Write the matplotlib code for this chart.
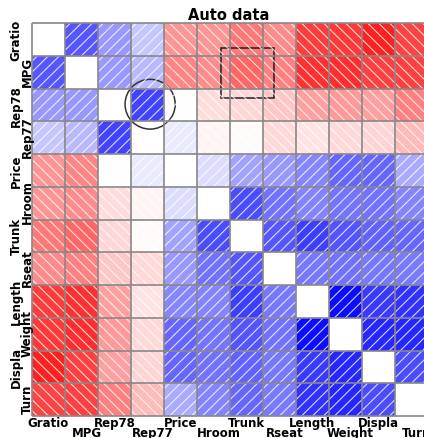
import numpy as np
import matplotlib
matplotlib.use("Agg")
import matplotlib.pyplot as plt
from matplotlib.colors import LinearSegmentedColormap
from matplotlib.collections import LineCollection
from matplotlib.patches import Circle, Rectangle
from matplotlib.transforms import blended_transform_factory

# Variables in display order
variables = ["Gratio", "MPG", "Rep78", "Rep77", "Price", "Hroom",
             "Trunk", "Rseat", "Length", "Weight", "Displa", "Turn"]

# Upper-triangle correlations, one list per row (entries right of the diagonal)
r_gratio = [0.66, 0.40, 0.22, -0.42, -0.42, -0.53, -0.46, -0.76, -0.78, -0.87, -0.74]
r_mpg    = [0.40, 0.28, -0.48, -0.45, -0.60, -0.50, -0.81, -0.82, -0.75, -0.75]
r_rep78  = [0.74, 0.00, -0.14, -0.16, -0.22, -0.37, -0.40, -0.38, -0.50]
r_rep77  = [0.08, -0.04, -0.02, -0.15, -0.11, -0.15, -0.17, -0.27]
r_price  = [0.14, 0.36, 0.40, 0.47, 0.60, 0.60, 0.33]
r_hroom  = [0.70, 0.55, 0.48, 0.54, 0.55, 0.48]
r_trunk  = [0.66, 0.75, 0.67, 0.61, 0.60]
r_rseat  = [0.53, 0.55, 0.53, 0.52]
r_length = [0.95, 0.77, 0.80]
r_weight = [0.85, 0.85]
r_displa = [0.70]

upper_rows = [r_gratio, r_mpg, r_rep78, r_rep77, r_price, r_hroom,
              r_trunk, r_rseat, r_length, r_weight, r_displa]

n = len(variables)
corr = np.full((n, n), np.nan)
for i, row in enumerate(upper_rows):
    for k, val in enumerate(row):
        j = i + 1 + k
        corr[i, j] = val
        corr[j, i] = val

W, H = 424, 439
fig = plt.figure(figsize=(W / 100, H / 100), dpi=100)
fig.patch.set_facecolor("white")
# Grid spans x 32..428 px and y 24..417 px (the last column runs past the edge)
ax = fig.add_axes([32 / W, 22 / H, 396 / W, 393 / H])

cmap = LinearSegmentedColormap.from_list(
    "shade", [(1.0, 0.0, 0.0), (1.0, 1.0, 1.0), (0.0, 0.0, 1.0)])
masked = np.ma.masked_invalid(corr)
ax.pcolormesh(np.arange(n + 1), np.arange(n + 1), masked,
              cmap=cmap, vmin=-1, vmax=1, shading="flat")
ax.set_facecolor("white")

# Hatching: "/" for positive, "\" for negative correlations
segs = []
offs_pos = [1 / 6 + k / 3 for k in range(6)]
offs_neg = [-5 / 6, -1 / 2, -1 / 6, 1 / 6, 1 / 2, 5 / 6]
for i in range(n):
    for j in range(n):
        v = corr[i, j]
        if np.isnan(v):
            continue
        if v >= 0:
            for t in offs_pos:
                if t <= 1:
                    p0, p1 = (t, 0), (0, t)
                else:
                    p0, p1 = (1, t - 1), (t - 1, 1)
                segs.append([(j + p0[0], i + p0[1]), (j + p1[0], i + p1[1])])
        else:
            for s in offs_neg:
                if s >= 0:
                    p0, p1 = (s, 0), (1, 1 - s)
                else:
                    p0, p1 = (0, -s), (1 + s, 1)
                segs.append([(j + p0[0], i + p0[1]), (j + p1[0], i + p1[1])])
ax.add_collection(LineCollection(segs, colors="white", linewidths=0.8, alpha=0.8))

# Cell borders
grid_col = "#888888"
ax.hlines(np.arange(n + 1), 0, n, colors=grid_col, linewidth=1.2, clip_on=False)
ax.vlines(np.arange(n + 1), 0, n, colors=grid_col, linewidth=1.2, clip_on=False)

ax.set_xlim(0, n)
ax.set_ylim(n, 0)
ax.set_xticks([])
ax.set_yticks([])
for sp in ax.spines.values():
    sp.set_visible(False)

# Highlight marks
ax.add_patch(Circle((3.58, 2.48), 0.76, fill=False, edgecolor="#333333",
                    linewidth=1.1, clip_on=False))
ax.add_patch(Rectangle((5.74, 0.77), 1.58, 1.53, fill=False, edgecolor="#222222",
                       linewidth=1.1, clip_on=False))

# Labels
font = dict(fontsize=8.5, fontweight="bold", family="DejaVu Sans", color="black")
tr_bottom = blended_transform_factory(ax.transData, fig.transFigure)
tr_left = blended_transform_factory(fig.transFigure, ax.transData)
for k, name in enumerate(variables):
    if k % 2 == 0:
        ax.text(k + 0.5, 1 - 427 / H, name, transform=tr_bottom,
                ha="center", va="baseline", **font)
        ax.text(19.5 / W, k + 0.5, name, transform=tr_left, rotation=90,
                rotation_mode="anchor", ha="center", va="baseline", **font)
    else:
        ax.text(k + 0.65, 1 - 437 / H, name, transform=tr_bottom,
                ha="center", va="baseline", **font)
        ax.text(31 / W, k + 0.5 - 0.05, name, transform=tr_left, rotation=90,
                rotation_mode="anchor", ha="center", va="baseline", **font)

fig.text(229 / W, 1 - 20.5 / H, "Auto data", ha="center", va="baseline",
         fontsize=10.5, fontweight="bold", family="DejaVu Sans")

fig.savefig("out.png", dpi=100)
